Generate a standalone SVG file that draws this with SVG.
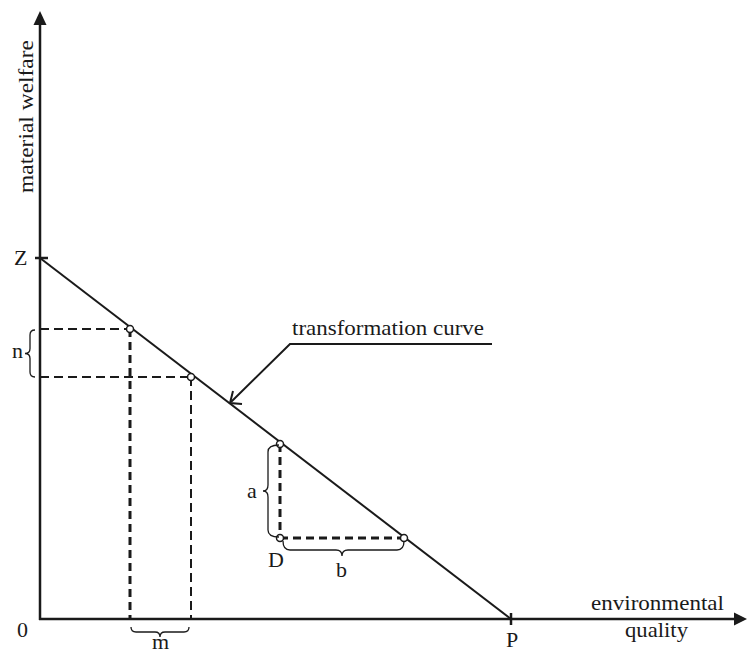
<svg xmlns="http://www.w3.org/2000/svg" width="747" height="653" viewBox="0 0 747 653">
<style>
text{font-family:"Liberation Serif","Times New Roman",serif;font-size:22px;fill:#1a1a1a}
.ax{stroke:#1a1a1a;stroke-width:2.5;fill:none}
.ln{stroke:#1a1a1a;stroke-width:2;fill:none}
.d1{stroke:#1a1a1a;stroke-width:2;stroke-dasharray:9,5;fill:none}
.d2{stroke:#1a1a1a;stroke-width:3;stroke-dasharray:8,5;fill:none}
.br{stroke:#1a1a1a;stroke-width:1.3;fill:none}
.pt{stroke:#1a1a1a;stroke-width:1.5;fill:#fff}
</style>
<rect width="747" height="653" fill="#fff"/>
<g id="axes">
<line class="ax" x1="40" y1="620" x2="40" y2="22"/>
<polygon points="40,11 33.5,25 46.5,25" fill="#1a1a1a"/>
<line class="ax" x1="39" y1="619" x2="736" y2="619"/>
<polygon points="747,619 734,612.5 734,625.5" fill="#1a1a1a"/>
<line class="ax" x1="35" y1="258" x2="48" y2="258"/>
<line class="ax" x1="511" y1="613" x2="511" y2="625"/>
<text transform="translate(33,193) rotate(-90)" textLength="153" lengthAdjust="spacingAndGlyphs">material welfare</text>
<text x="591" y="610" textLength="133" lengthAdjust="spacingAndGlyphs">environmental</text>
<text x="625" y="637" textLength="63" lengthAdjust="spacingAndGlyphs">quality</text>
<text x="14" y="265">Z</text>
<text x="17" y="637">0</text>
<text x="506" y="647">P</text>
</g>
<g id="dashes">
<polyline class="d1" points="40,329 130,329"/>
<polyline class="d1" points="40,377 191,377"/>
<line class="d2" x1="130" y1="329" x2="130" y2="619"/>
<line class="d1" x1="191" y1="377" x2="191" y2="619"/>
<line class="d2" x1="280" y1="444" x2="280" y2="538"/>
<line class="d2" x1="280" y1="538" x2="404" y2="538"/>
</g>
<g id="curve">
<line class="ln" x1="40" y1="258" x2="511" y2="619"/>
</g>
<g id="connectors">
<polyline class="ln" points="492,344 290,344 231,402"/>
<polyline class="ln" points="233,391 230,403 242,404"/>
</g>
<g id="points">
<circle class="pt" cx="130" cy="329" r="3.5"/>
<circle class="pt" cx="191" cy="377" r="3.5"/>
<circle class="pt" cx="280" cy="444" r="3.5"/>
<circle class="pt" cx="280" cy="538" r="3.5"/>
<circle class="pt" cx="404" cy="538" r="3.5"/>
</g>
<g id="braces">
<path class="br" d="M35,330 Q30,330 30,335 L30,348.5 Q30,353.5 25,353.5 Q30,353.5 30,358.5 L30,372 Q30,377 35,377"/>
<path class="br" d="M279,445 Q268,445 268,452 L268,485 Q268,491 263,491 Q268,491 268,497 L268,530 Q268,537 279,537"/>
<path class="br" d="M283,541 Q283,550 290,550 L336,550 Q342,550 342,556 Q342,550 348,550 L397,550 Q404,550 404,541"/>
<path class="br" d="M131,627 Q131,632 136,632 L155,632 Q160,632 160,637 Q160,632 165,632 L184,632 Q189,632 189,627"/>
<text x="12" y="358">n</text>
<text x="152" y="649">m</text>
<text x="247" y="498">a</text>
<text x="336" y="577">b</text>
<text x="268" y="567">D</text>
</g>
<g id="label">
<text x="292" y="335" textLength="192" lengthAdjust="spacingAndGlyphs">transformation curve</text>
</g>
</svg>
